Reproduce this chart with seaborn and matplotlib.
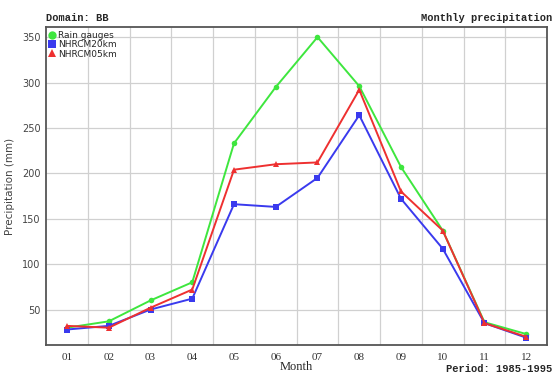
import pandas as pd
import numpy as np
import seaborn as sns
import matplotlib.pyplot as plt

sns.set_style("white")

months = [1, 2, 3, 4, 5, 6, 7, 8, 9, 10, 11, 12]
month_labels = ['01', '02', '03', '04', '05', '06', '07', '08', '09', '10', '11', '12']
rain_gauges = [30, 37, 60, 80, 233, 295, 350, 296, 207, 137, 36, 23]
nhrcm20 = [28, 32, 50, 62, 166, 163, 195, 264, 172, 117, 35, 19]
nhrcm05 = [32, 30, 52, 72, 204, 210, 212, 292, 180, 137, 35, 20]

df = pd.DataFrame({
    'month': months * 3,
    'precip': rain_gauges + nhrcm20 + nhrcm05,
    'series': ['Rain gauges'] * 12 + ['NHRCM20km'] * 12 + ['NHRCM05km'] * 12,
})

palette = {'Rain gauges': '#3ee63e', 'NHRCM20km': '#3a3aee', 'NHRCM05km': '#ee3030'}
markers = {'Rain gauges': 'o', 'NHRCM20km': 's', 'NHRCM05km': '^'}

fig = plt.figure(figsize=(5.56, 3.82), dpi=100)
ax = fig.add_axes([0.083, 0.097, 0.901, 0.832])

sns.lineplot(data=df, x='month', y='precip', hue='series', style='series',
             palette=palette, markers=markers, dashes=False, linewidth=1.4,
             markersize=4, markeredgewidth=0, ax=ax)

ax.set_xlim(0.5, 12.5)
ax.set_ylim(11, 361)
ax.set_xticks(months)
ax.set_xticklabels(month_labels, family='Liberation Serif', fontsize=8, color='#333333')
ax.set_xticks(np.arange(1.5, 12.5, 1), minor=True)
ax.set_yticks([50, 100, 150, 200, 250, 300, 350])
ax.tick_params(axis='y', labelsize=7, colors='#444444', length=2, pad=2)
ax.tick_params(axis='x', which='major', length=0, pad=6)
ax.tick_params(axis='x', which='minor', length=0)
ax.grid(True, axis='y', color='#d0d0d0', linewidth=0.9)
ax.grid(True, axis='x', which='minor', color='#d0d0d0', linewidth=0.9)
for s in ax.spines.values():
    s.set_color('#555555')
    s.set_linewidth(1.3)

ax.set_xlabel('Month', family='Liberation Serif', fontsize=9, labelpad=-1)
ax.set_ylabel('Precipitation (mm)', fontsize=7.5, color='#444444')
ax.yaxis.set_label_coords(-0.062, 0.5)

ax.text(0.0, 1.012, 'Domain: BB', transform=ax.transAxes, family='Liberation Mono',
        fontweight='bold', fontsize=7.5, ha='left', va='bottom')
ax.text(1.01, 1.012, 'Monthly precipitation', transform=ax.transAxes, family='Liberation Mono',
        fontweight='bold', fontsize=7.5, ha='right', va='bottom')
ax.text(1.01, -0.06, 'Period: 1985-1995', transform=ax.transAxes, family='Liberation Mono',
        fontweight='bold', fontsize=7.5, ha='right', va='top')

leg = ax.legend(loc='upper left', frameon=False, fontsize=6.5, handlelength=0.6,
                handletextpad=0.3, labelspacing=0.05, borderaxespad=0.2, borderpad=0.2)
for h in leg.legend_handles:
    h.set_linestyle('None')
    h.set_markersize(6)

plt.savefig('out.png', dpi=100)
